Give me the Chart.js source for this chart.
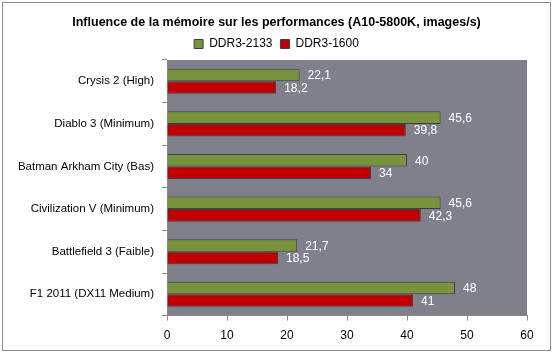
<!DOCTYPE html>
<html>
<head>
<meta charset="utf-8">
<script src="https://cdn.jsdelivr.net/npm/chart.js@4.4.0/dist/chart.umd.min.js"></script>
<style>
  body { margin: 0; background: #fff; }
  #wrap { width: 553px; height: 354px; }
</style>
</head>
<body>
<div id="wrap"><canvas id="c" width="553" height="354"></canvas></div>
<script>
const games = ['Crysis 2 (High)', 'Diablo 3 (Minimum)', 'Batman Arkham City (Bas)',
               'Civilization V (Minimum)', 'Battlefield 3 (Faible)', 'F1 2011 (DX11 Medium)'];
const ddr2133 = [22.1, 45.6, 40, 45.6, 21.7, 48];
const ddr1600 = [18.2, 39.8, 34, 42.3, 18.5, 41];
const xTicks = [0, 10, 20, 30, 40, 50, 60];

const FONT = "'Liberation Sans', sans-serif";

// grey plot area + outer frame
const backdrop = {
    id: 'backdrop',
    beforeDraw(chart) {
        const { ctx, chartArea: a } = chart;
        ctx.save();
        ctx.fillStyle = '#80808c';
        ctx.fillRect(a.left, a.top, a.right - a.left, a.bottom - a.top);
        ctx.strokeStyle = '#8c8c8c';
        ctx.lineWidth = 1;
        ctx.strokeRect(2.5, 2.5, 548, 348);
        ctx.restore();
    }
};

// values printed right of each bar
const valueLabels = {
    id: 'valueLabels',
    afterDatasetsDraw(chart) {
        const ctx = chart.ctx;
        ctx.save();
        ctx.fillStyle = '#ffffff';
        ctx.font = '12px ' + FONT;
        ctx.textBaseline = 'middle';
        chart.data.datasets.forEach((ds, i) => {
            chart.getDatasetMeta(i).data.forEach((bar, j) => {
                const txt = String(ds.data[j]).replace('.', ',');
                ctx.fillText(txt, bar.x + 8, bar.y + 1);
            });
        });
        ctx.restore();
    }
};

new Chart(document.getElementById('c'), {
    type: 'bar',
    data: {
        labels: games,
        datasets: [{
            label: 'DDR3-2133',
            data: ddr2133,
            backgroundColor: '#77933c',
            borderColor: '#404040',
            borderWidth: 1,
            borderSkipped: 'start'
        }, {
            label: 'DDR3-1600',
            data: ddr1600,
            backgroundColor: '#c00000',
            borderColor: '#404040',
            borderWidth: 1,
            borderSkipped: 'start'
        }]
    },
    options: {
        indexAxis: 'y',
        responsive: false,
        animation: false,
        datasets: { bar: { categoryPercentage: 0.59, barPercentage: 1.0 } },
        layout: { padding: { left: 13, right: 13, top: 0, bottom: 3 } },
        scales: {
            x: {
                min: 0,
                max: 60,
                afterBuildTicks(axis) { axis.ticks = xTicks.map(v => ({ value: v })); },
                grid: { drawOnChartArea: false, color: '#888888', tickLength: 5 },
                border: { color: '#888888' },
                ticks: { color: '#000000', font: { family: FONT, size: 12 }, padding: 8 }
            },
            y: {
                afterFit(axis) { axis.width = 154; },
                grid: { drawOnChartArea: false, offset: true, color: '#888888', tickLength: 5 },
                border: { color: '#888888' },
                ticks: { color: '#000000', font: { family: FONT, size: 11.5 }, padding: 8 }
            },
            // empty right-hand axis, only keeps the plot clear of the frame
            spacer: {
                axis: 'y',
                type: 'linear',
                position: 'right',
                afterFit(axis) { axis.width = 13; },
                grid: { display: false },
                border: { display: false },
                ticks: { display: false }
            }
        },
        plugins: {
            title: {
                display: true,
                text: 'Influence de la mémoire sur les performances (A10-5800K, images/s)',
                color: '#000000',
                font: { family: FONT, size: 12.5, weight: 'bold' },
                padding: { top: 15, bottom: 0 }
            },
            legend: {
                display: true,
                labels: {
                    color: '#000000',
                    font: { family: FONT, size: 12 },
                    boxWidth: 9,
                    boxHeight: 9,
                    padding: 8
                }
            },
            tooltip: { enabled: false }
        }
    },
    plugins: [backdrop, valueLabels]
});
</script>
</body>
</html>
